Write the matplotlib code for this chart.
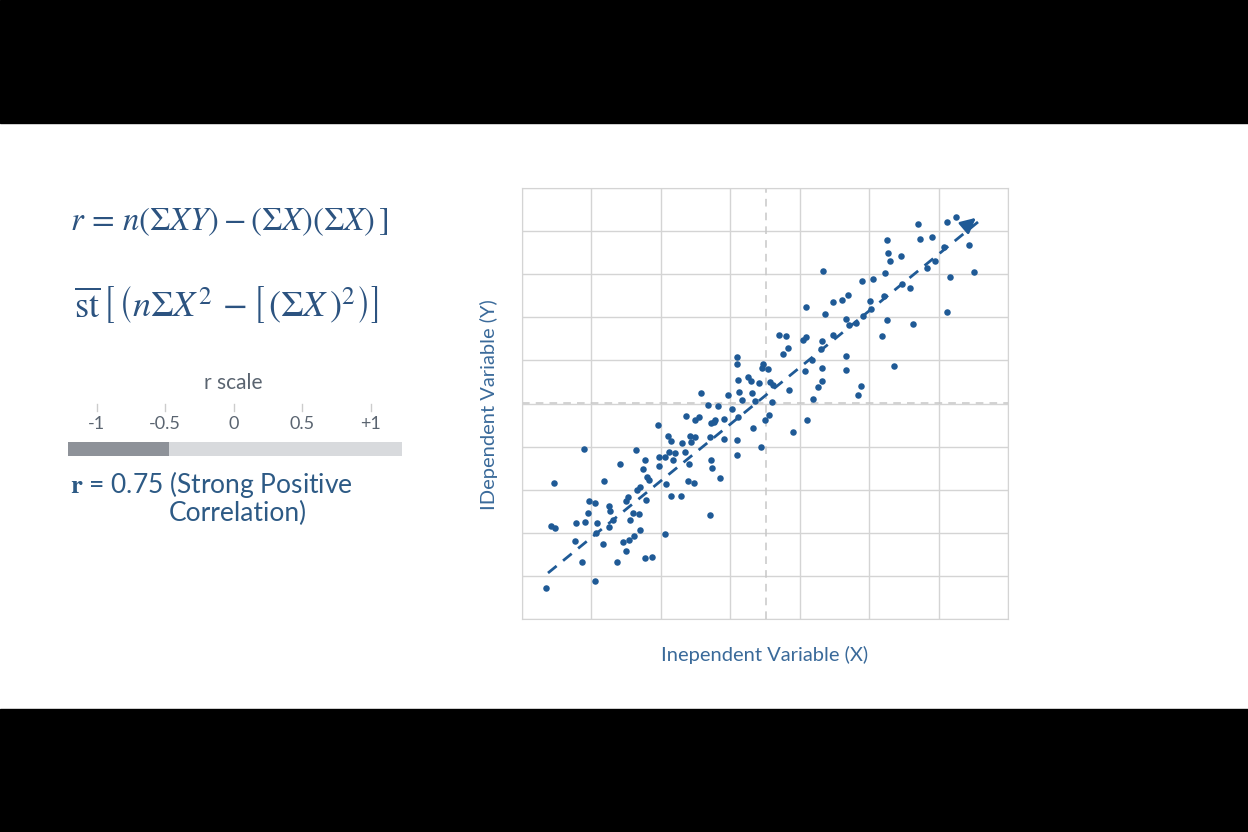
import matplotlib
matplotlib.use("Agg")
import matplotlib.pyplot as plt
from matplotlib.patches import Rectangle

# scatter data (arbitrary units: x 0..486, y 0..431)
xs = [24,32,29,33,62,53,60,54,63,66,67,73,73,74,75,81,82,87,87,88,91,95,98,101,104,107,104,106,108,111,112,114,115,117,118,118,121,123,123,124,125,127,130,136,137,137,143,143,144,146,147,149,149,151,153,159,160,163,164,166,167,168,169,172,173,173,177,179,186,188,188,189,189,190,192,193,196,198,202,202,206,210,215,215,216,217,220,229,230,231,233,237,239,243,247,
      215,215,216,226,240,241,246,248,251,250,257,264,266,261,267,271,281,284,284,283,285,290,291,296,300,300,299,300,301,303,311,311,320,324,324,324,326,327,334,336,339,340,341,348,349,351,360,363,362,365,366,365,368,372,379,380,388,391,396,398,405,410,413,422,425,425,428,434,447,452]
ys = [31,136,93,91,170,78,57,96,97,106,118,116,38,86,96,75,138,92,113,108,99,57,155,77,68,79,118,122,99,106,83,169,129,105,89,132,150,159,61,119,142,139,62,194,162,153,162,85,135,183,167,123,178,159,166,123,176,167,203,138,155,183,177,136,182,199,202,226,214,104,182,196,159,151,197,199,213,141,180,200,224,210,179,164,202,227,219,238,226,191,218,236,172,199,204,
      262,255,239,242,251,255,250,237,234,217,284,283,271,265,229,187,279,282,312,248,199,259,220,232,251,238,270,278,348,305,284,317,319,263,249,300,324,294,296,224,233,338,303,318,310,340,283,346,323,379,366,299,358,253,363,335,331,295,395,380,351,382,358,372,397,307,342,402,374,347]
trend_x = [26, 456]
trend_y = [46, 403]
x_grid = [0, 69.4, 138.9, 208.3, 277.7, 347.1, 416.6, 486]
y_grid = [0, 43.1, 86.2, 129.3, 172.4, 215.5, 258.6, 301.7, 344.8, 387.9, 431]
mean_x, mean_y = 244, 216

scale_ticks = [-1, -0.5, 0, 0.5, 1]
scale_labels = ["-1", "-0.5", "0", "0.5", "+1"]
r_value_bar = -0.47  # dark segment end as drawn

plt.rcParams["font.family"] = ["Lato", "DejaVu Sans"]
plt.rcParams["mathtext.fontset"] = "stix"

W, H = 1248, 832
fig = plt.figure(figsize=(12.48, 8.32), dpi=100)
fig.patch.set_facecolor("white")
fig.patches.append(Rectangle((0, 0), 1, 123/H, transform=fig.transFigure, color="black", zorder=0))
fig.patches.append(Rectangle((0, 1-123/H), 1, 123/H, transform=fig.transFigure, color="black", zorder=0))

blue = "#1f5a96"
txtblue = "#2c5380"

ax = fig.add_axes([522/W, 1-619/H, 486/W, 431/H])
ax.set_xlim(0, 486); ax.set_ylim(0, 431)
for g in x_grid:
    ax.axvline(g, color="#d4d4d4", lw=1, zorder=0)
for g in y_grid:
    ax.axhline(g, color="#d4d4d4", lw=1, zorder=0)
ax.axvline(mean_x, color="#c8c8c8", lw=1.1, ls=(0, (5, 4)), zorder=1)
ax.axhline(mean_y, color="#c8c8c8", lw=1.1, ls=(0, (5, 4)), zorder=1)
ax.scatter(xs, ys, s=22, color=blue, zorder=3, linewidths=0)
ax.plot(trend_x, [trend_y[0], trend_y[1]-6], color=blue, lw=2, ls=(0, (4, 3)), zorder=4)
ax.annotate("", xy=(trend_x[1], trend_y[1]), xytext=(trend_x[1]-14, trend_y[1]-12),
            arrowprops=dict(arrowstyle="-|>,head_length=0.9,head_width=0.45", color=blue, lw=2), zorder=5)
ax.set_xticks([]); ax.set_yticks([])
for s in ax.spines.values():
    s.set_color("#d4d4d4")

fig.text(765/W, 1-655/H, "Inependent Variable (X)", ha="center", va="center", fontsize=14.5, color="#3a6a9a")
fig.text(489/W, 1-405/H, "IDependent Variable (Y)", ha="center", va="center", fontsize=14.5, color="#3a6a9a", rotation=90)

fig.text(70/W, 1-222/H, r"$r\,=\,n\left(\Sigma XY\right)-\left(\Sigma X\right)\left(\Sigma X\right)\,\left.\right]$",
         ha="left", va="center", fontsize=23.5, color=txtblue)
fig.text(74/W, 1-305/H, r"$\overline{\mathrm{st}}\,\left[\,\left(n\Sigma X^2\,-\left[\,\left(\Sigma X\,\right)^2\right)\right]\right.$",
         ha="left", va="center", fontsize=26, color=txtblue)

fig.text(233/W, 1-383/H, "r scale", ha="center", va="center", fontsize=15, color="#5a6470")

bax = fig.add_axes([68/W, 1-456/H, 334/W, 14/H])
bax.set_xlim(-1.21, 1.23); bax.set_ylim(0, 1)
bax.barh(0.5, 1.23 - (-1.21), left=-1.21, height=1, color="#d8dadd")
bax.barh(0.5, r_value_bar - (-1.21), left=-1.21, height=1, color="#8e9299")
bax.axis("off")
for t, lab in zip(scale_ticks, scale_labels):
    bax.text(t, 2.3, lab, ha="center", va="center", fontsize=13, color="#5a6470", clip_on=False)
    bax.plot([t, t], [3.2, 3.7], color="#cccccc", lw=1, clip_on=False)

fig.text(70/W, 1-484/H, r"$\mathbf{r}$ = 0.75 (Strong Positive", ha="left", va="center", fontsize=19, color="#2d5a85")
fig.text(238/W, 1-513/H, "Correlation)", ha="center", va="center", fontsize=19, color="#2d5a85")

fig.savefig("out.png", dpi=100)
